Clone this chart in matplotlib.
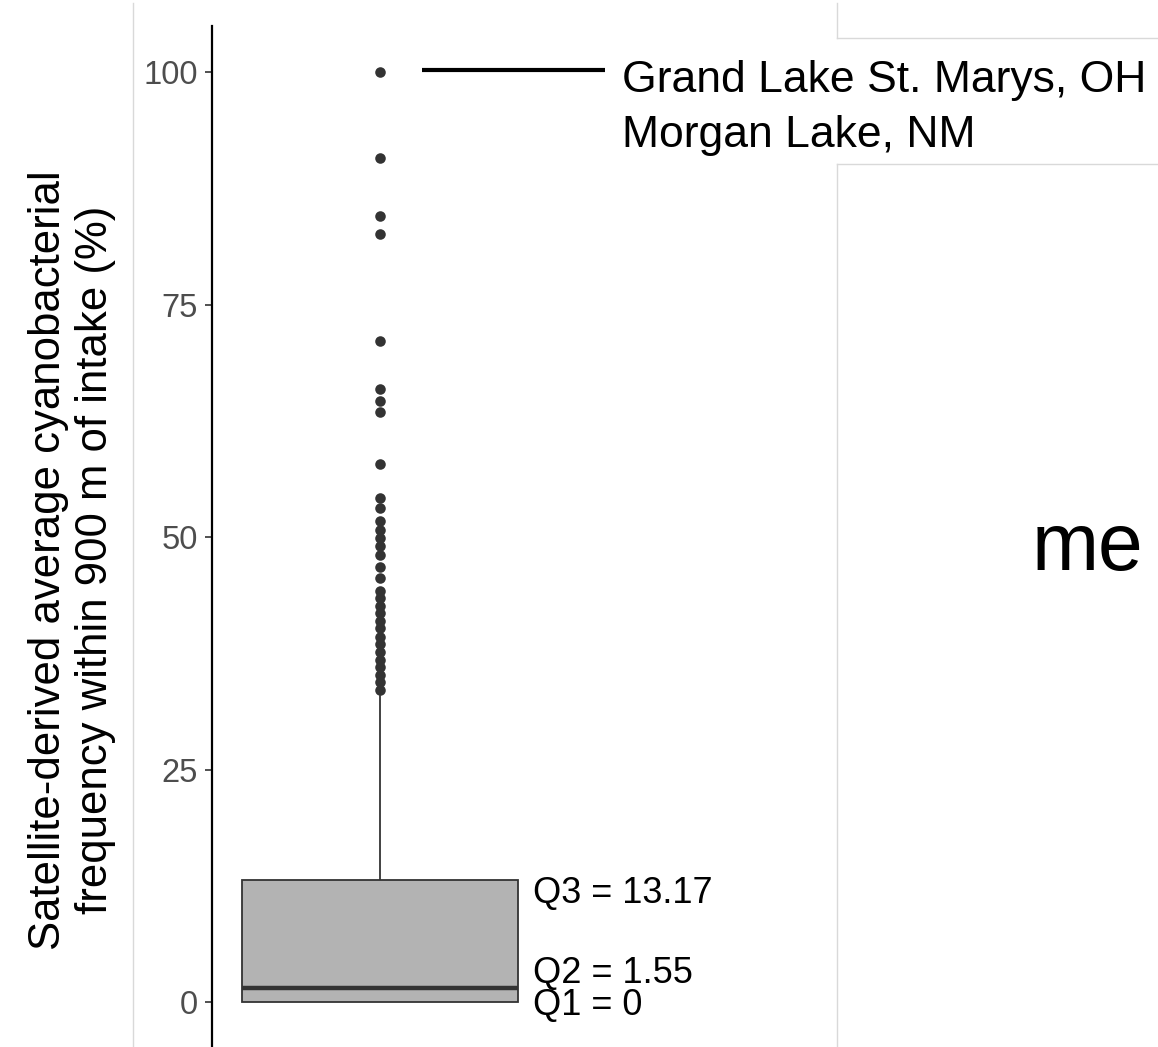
import numpy as np
import matplotlib
matplotlib.use("Agg")
import matplotlib.pyplot as plt
from matplotlib.lines import Line2D
from matplotlib.patches import Rectangle

plt.rcParams['font.family'] = ['Liberation Sans', 'DejaVu Sans']

# box statistics
q1 = 0.0
q2 = 1.55
q3 = 13.17
whisker_top = 32.9

# outlying intakes
outliers = [100.0, 90.8, 84.5, 82.6, 71.1,
            65.9, 64.6, 63.4, 57.8, 54.2, 53.1,
            51.7, 50.8, 49.9, 49.0, 48.1,
            46.8, 45.6,
            44.2, 43.4, 42.6, 41.8, 41.0, 40.2,
            39.3, 38.5, 37.6, 36.8, 36.0, 35.2, 34.4, 33.6]

q_labels = ["Q3 = 13.17", "Q2 = 1.55", "Q1 = 0"]
q_label_y = [10.6, 2.0, -1.4]
lake_labels = ["Grand Lake St. Marys, OH", "Morgan Lake, NM"]
lake_label_y = [97.85, 91.9]
ytick_vals = [0, 25, 50, 75, 100]

W, H = 1158, 1047
fig = plt.figure(figsize=(W / 100, H / 100), dpi=100)

# axes in pixel terms: y axis at x=212, 0 at y=1002, 100 at y=72
px_per_y = 9.3
px_per_x = 369.3
x0 = 1.0
ax_left = 212
ax = fig.add_axes([ax_left / W, (H - 1048.5) / H, (W - ax_left) / W, (1048.5 - 25.5) / H])
ax.set_ylim(-5, 105)
ax.set_xlim(x0 - (380 - ax_left) / px_per_x, x0 + (W - 380) / px_per_x)

for s in ['top', 'right', 'bottom']:
    ax.spines[s].set_visible(False)
ax.spines['left'].set_color('black')
ax.spines['left'].set_linewidth(1.6)
ax.set_xticks([])
ax.set_yticks(ytick_vals)
ax.set_yticklabels([str(v) for v in ytick_vals])
ax.tick_params(axis='y', length=5, width=1.2, color='#333333',
               labelsize=23.5, labelcolor='#4d4d4d', pad=5)

# box
bw = 0.75
ax.plot([x0, x0], [q3, whisker_top], color='#333333', lw=1.3, zorder=2)
ax.add_patch(Rectangle((x0 - bw / 2, q1), bw, q3 - q1, facecolor='#b3b3b3',
                       edgecolor='#333333', lw=1.3, zorder=3))
ax.plot([x0 - bw / 2, x0 + bw / 2], [q2, q2], color='#333333', lw=3.2,
        solid_capstyle='butt', zorder=4)

# outliers
ax.plot([x0] * len(outliers), outliers, 'o', color='#333333', ms=7.6,
        mec='none', zorder=5, clip_on=False)

# quartile labels
for lab, yy in zip(q_labels, q_label_y):
    ax.text(x0 + (533 - 380) / px_per_x, yy, lab, fontsize=26, color='black',
            va='baseline', ha='left', clip_on=False)

# lake labels with pointer line
ax.plot([x0 + (422 - 380) / px_per_x, x0 + (605 - 380) / px_per_x], [100.2, 100.2],
        color='black', lw=3, solid_capstyle='butt', zorder=5)
for lab, yy in zip(lake_labels, lake_label_y):
    ax.text(x0 + (622 - 380) / px_per_x, yy, lab, fontsize=32, color='black',
            va='baseline', ha='left', clip_on=False, zorder=6)

# y axis title
fig.text(72 / W, 1 - 560 / H,
         "Satellite-derived average cyanobacterial\nfrequency within 900 m of intake (%)",
         rotation=90, ha='center', va='center', fontsize=31.5, linespacing=1.2,
         multialignment='center')

# faint frame lines
frame = '#d9d9d9'
fig.add_artist(Line2D([133 / W, 133 / W], [0, 1 - 3 / H], color=frame, lw=1))
fig.add_artist(Line2D([837 / W, 837 / W], [1 - 38 / H, 1 - 3 / H], color=frame, lw=1))
fig.add_artist(Line2D([837 / W, 1], [1 - 38 / H, 1 - 38 / H], color=frame, lw=1))
fig.add_artist(Line2D([837 / W, 1], [1 - 164 / H, 1 - 164 / H], color=frame, lw=1))
fig.add_artist(Line2D([837 / W, 837 / W], [0, 1 - 164 / H], color=frame, lw=1))

fig.text(1032 / W, 1 - 570 / H, "me", fontsize=58, ha='left', va='baseline')

fig.savefig("out.png", dpi=100)
